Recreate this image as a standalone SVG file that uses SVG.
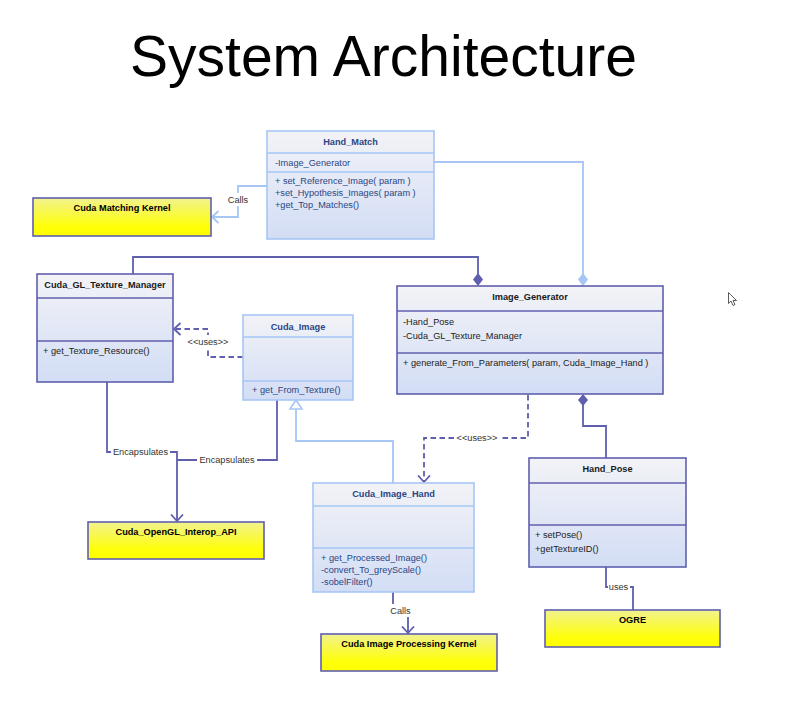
<svg xmlns="http://www.w3.org/2000/svg" width="792" height="716" viewBox="0 0 792 716">
<defs>
<linearGradient id="gClass" x1="0" y1="0" x2="0" y2="1">
<stop offset="0" stop-color="#f3f3f7"/>
<stop offset="1" stop-color="#d2ddf5"/>
</linearGradient>
<linearGradient id="gYellow" x1="0" y1="0" x2="0" y2="1">
<stop offset="0" stop-color="#f2f290"/>
<stop offset="0.75" stop-color="#ffff08"/>
<stop offset="1" stop-color="#ffff00"/>
</linearGradient>
<marker id="arrD" markerWidth="14" markerHeight="14" refX="7.5" refY="6.5" orient="auto" markerUnits="userSpaceOnUse">
<path d="M1,0.5 L7.5,6.5 L1,12.5" fill="none" stroke="#5f5fae" stroke-width="1.8"/>
</marker>
<marker id="arrL" markerWidth="14" markerHeight="14" refX="7.5" refY="6.5" orient="auto" markerUnits="userSpaceOnUse">
<path d="M1,0.5 L7.5,6.5 L1,12.5" fill="none" stroke="#a6c6f6" stroke-width="1.8"/>
</marker>
</defs>
<style>
text{font-family:"Liberation Sans",Arial,sans-serif;font-size:9.2px}
.title{font-size:57px;fill:#000}
.box-d{fill:url(#gClass);stroke:#5f5fae;stroke-width:1.6}
.box-l{fill:url(#gClass);stroke:#a6c6f6;stroke-width:1.6}
.sep-d{stroke:#5f5fae;stroke-width:1.4}
.sep-l{stroke:#a6c6f6;stroke-width:1.4}
.box-y{fill:url(#gYellow);stroke:#5f5fae;stroke-width:1.6}
.hd{font-weight:bold;fill:#1a1a1a;text-anchor:middle}
.hl{font-weight:bold;fill:#2a4684;text-anchor:middle}
.td{fill:#222}
.tl{fill:#2a4684}
.hy{font-weight:bold;fill:#000;text-anchor:middle}
.cd{fill:none;stroke:#5f5fae;stroke-width:1.8}
.cl{fill:none;stroke:#a6c6f6;stroke-width:1.8}
.dash{stroke-dasharray:5.5 3.5}
.lbg{fill:#fff}
.lbl{fill:#333;text-anchor:middle}
</style>

<text class="title" x="383.5" y="76" text-anchor="middle">System Architecture</text>

<g id="connectors">
<!-- Hand_Match calls Cuda Matching Kernel -->
<path class="cl" d="M267,186 H238 V217 H212" marker-end="url(#arrL)"/>
<!-- Hand_Match attribute to Image_Generator (light diamond) -->
<path class="cl" d="M434,162 H583 V274"/>
<path d="M583,273 L588,279.5 L583,286 L578,279.5 Z" fill="#a6c6f6"/>
<!-- Cuda_GL_Texture_Manager composed in Image_Generator -->
<path class="cd" d="M133,274 V257 H478 V274"/>
<path d="M478,273 L483,279.5 L478,286 L473,279.5 Z" fill="#5f5fae"/>
<!-- Cuda_Image uses Cuda_GL_Texture_Manager -->
<path class="cd dash" d="M243,357 H208 V329 H174" marker-end="url(#arrD)"/>
<!-- Encapsulates 1 -->
<path class="cd" d="M107,382 V452 H177 V521" marker-end="url(#arrD)"/>
<!-- Encapsulates 2 -->
<path class="cd" d="M277,400 V460 H177"/>
<!-- Cuda_Image_Hand inherits Cuda_Image -->
<path class="cl" d="M393,483 V441 H296 V409"/>
<path d="M296,400 L302,409 L290,409 Z" fill="#fff" stroke="#a6c6f6" stroke-width="1.6"/>
<!-- Image_Generator uses Cuda_Image_Hand -->
<path class="cd dash" d="M528,395 V438 H424 V482" marker-end="url(#arrD)"/>
<!-- Hand_Pose composed in Image_Generator -->
<path class="cd" d="M583,404 V426 H606 V458"/>
<path d="M583,394 L588,400 L583,406 L578,400 Z" fill="#5f5fae"/>
<!-- Cuda_Image_Hand calls Cuda Image Processing Kernel -->
<path class="cd" d="M393,592 V611 H408 V633" marker-end="url(#arrD)"/>
<!-- Hand_Pose uses OGRE -->
<path class="cd" d="M606,567 V587 H633 V610"/>

<!-- labels -->
<rect class="lbg" x="227" y="193" width="22" height="13"/>
<text class="lbl" x="238" y="203">Calls</text>
<rect class="lbg" x="186" y="335" width="44" height="13"/>
<text class="lbl" x="208" y="344.5">&lt;&lt;uses&gt;&gt;</text>
<rect class="lbg" x="111" y="445" width="59" height="13"/>
<text class="lbl" x="140.5" y="455">Encapsulates</text>
<rect class="lbg" x="197" y="453" width="60" height="13"/>
<text class="lbl" x="227" y="463">Encapsulates</text>
<rect class="lbg" x="455" y="431" width="44" height="13"/>
<text class="lbl" x="477" y="441">&lt;&lt;uses&gt;&gt;</text>
<rect class="lbg" x="388" y="604" width="25" height="13"/>
<text class="lbl" x="400.5" y="614">Calls</text>
<rect class="lbg" x="608" y="580" width="22" height="13"/>
<text class="lbl" x="618.5" y="590">uses</text>
</g>

<g id="hand_match">
<rect class="box-l" x="267" y="131" width="167" height="108"/>
<line class="sep-l" x1="267" y1="153" x2="434" y2="153"/>
<line class="sep-l" x1="267" y1="172" x2="434" y2="172"/>
<text class="hl" x="350.5" y="144.5">Hand_Match</text>
<text class="tl" x="275" y="165.5">-Image_Generator</text>
<text class="tl" x="275" y="184">+ set_Reference_Image( param )</text>
<text class="tl" x="275" y="196">+set_Hypothesis_Images( param )</text>
<text class="tl" x="275" y="208">+get_Top_Matches()</text>
</g>

<g id="cuda_matching_kernel">
<rect class="box-y" x="33" y="198" width="178" height="38"/>
<text class="hy" x="122" y="211">Cuda Matching Kernel</text>
</g>

<g id="cuda_gl_texture_manager">
<rect class="box-d" x="37" y="274" width="136" height="108"/>
<line class="sep-d" x1="37" y1="298" x2="173" y2="298"/>
<line class="sep-d" x1="37" y1="341" x2="173" y2="341"/>
<text class="hd" x="105" y="287.5">Cuda_GL_Texture_Manager</text>
<text class="td" x="43" y="353.5">+ get_Texture_Resource()</text>
</g>

<g id="cuda_image">
<rect class="box-l" x="243" y="315" width="110" height="85"/>
<line class="sep-l" x1="243" y1="337" x2="353" y2="337"/>
<line class="sep-l" x1="243" y1="381" x2="353" y2="381"/>
<text class="hl" x="298" y="329.5">Cuda_Image</text>
<text class="tl" x="252" y="392.5">+ get_From_Texture()</text>
</g>

<g id="image_generator">
<rect class="box-d" x="397" y="286" width="266" height="108"/>
<line class="sep-d" x1="397" y1="311" x2="663" y2="311"/>
<line class="sep-d" x1="397" y1="353" x2="663" y2="353"/>
<text class="hd" x="530" y="299.5">Image_Generator</text>
<text class="td" x="403" y="324.5">-Hand_Pose</text>
<text class="td" x="403" y="338.5">-Cuda_GL_Texture_Manager</text>
<text class="td" x="403" y="365.5">+ generate_From_Parameters( param, Cuda_Image_Hand )</text>
</g>

<g id="cuda_opengl_interop_api">
<rect class="box-y" x="88" y="522" width="176" height="37"/>
<text class="hy" x="176" y="535">Cuda_OpenGL_Interop_API</text>
</g>

<g id="cuda_image_hand">
<rect class="box-l" x="313" y="483" width="161" height="109"/>
<line class="sep-l" x1="313" y1="506" x2="474" y2="506"/>
<line class="sep-l" x1="313" y1="548" x2="474" y2="548"/>
<text class="hl" x="393.5" y="496.5">Cuda_Image_Hand</text>
<text class="tl" x="321" y="560.5">+ get_Processed_Image()</text>
<text class="tl" x="321" y="572.5">-convert_To_greyScale()</text>
<text class="tl" x="321" y="584.5">-sobelFilter()</text>
</g>

<g id="hand_pose">
<rect class="box-d" x="529" y="458" width="157" height="109"/>
<line class="sep-d" x1="529" y1="483" x2="686" y2="483"/>
<line class="sep-d" x1="529" y1="525" x2="686" y2="525"/>
<text class="hd" x="607.5" y="471.5">Hand_Pose</text>
<text class="td" x="535" y="537.5">+ setPose()</text>
<text class="td" x="535" y="551.5">+getTextureID()</text>
</g>

<g id="cuda_image_processing_kernel">
<rect class="box-y" x="321" y="634" width="176" height="37"/>
<text class="hy" x="409" y="647">Cuda Image Processing Kernel</text>
</g>

<g id="ogre">
<rect class="box-y" x="545" y="610" width="175" height="37"/>
<text class="hy" x="632.5" y="623">OGRE</text>
</g>

<path d="M728.5,292.5 V303.5 L731,301 L733,305.5 L735,304.5 L733,300.5 L736.5,300.5 Z" fill="#fff" stroke="#333" stroke-width="0.8"/>
</svg>
